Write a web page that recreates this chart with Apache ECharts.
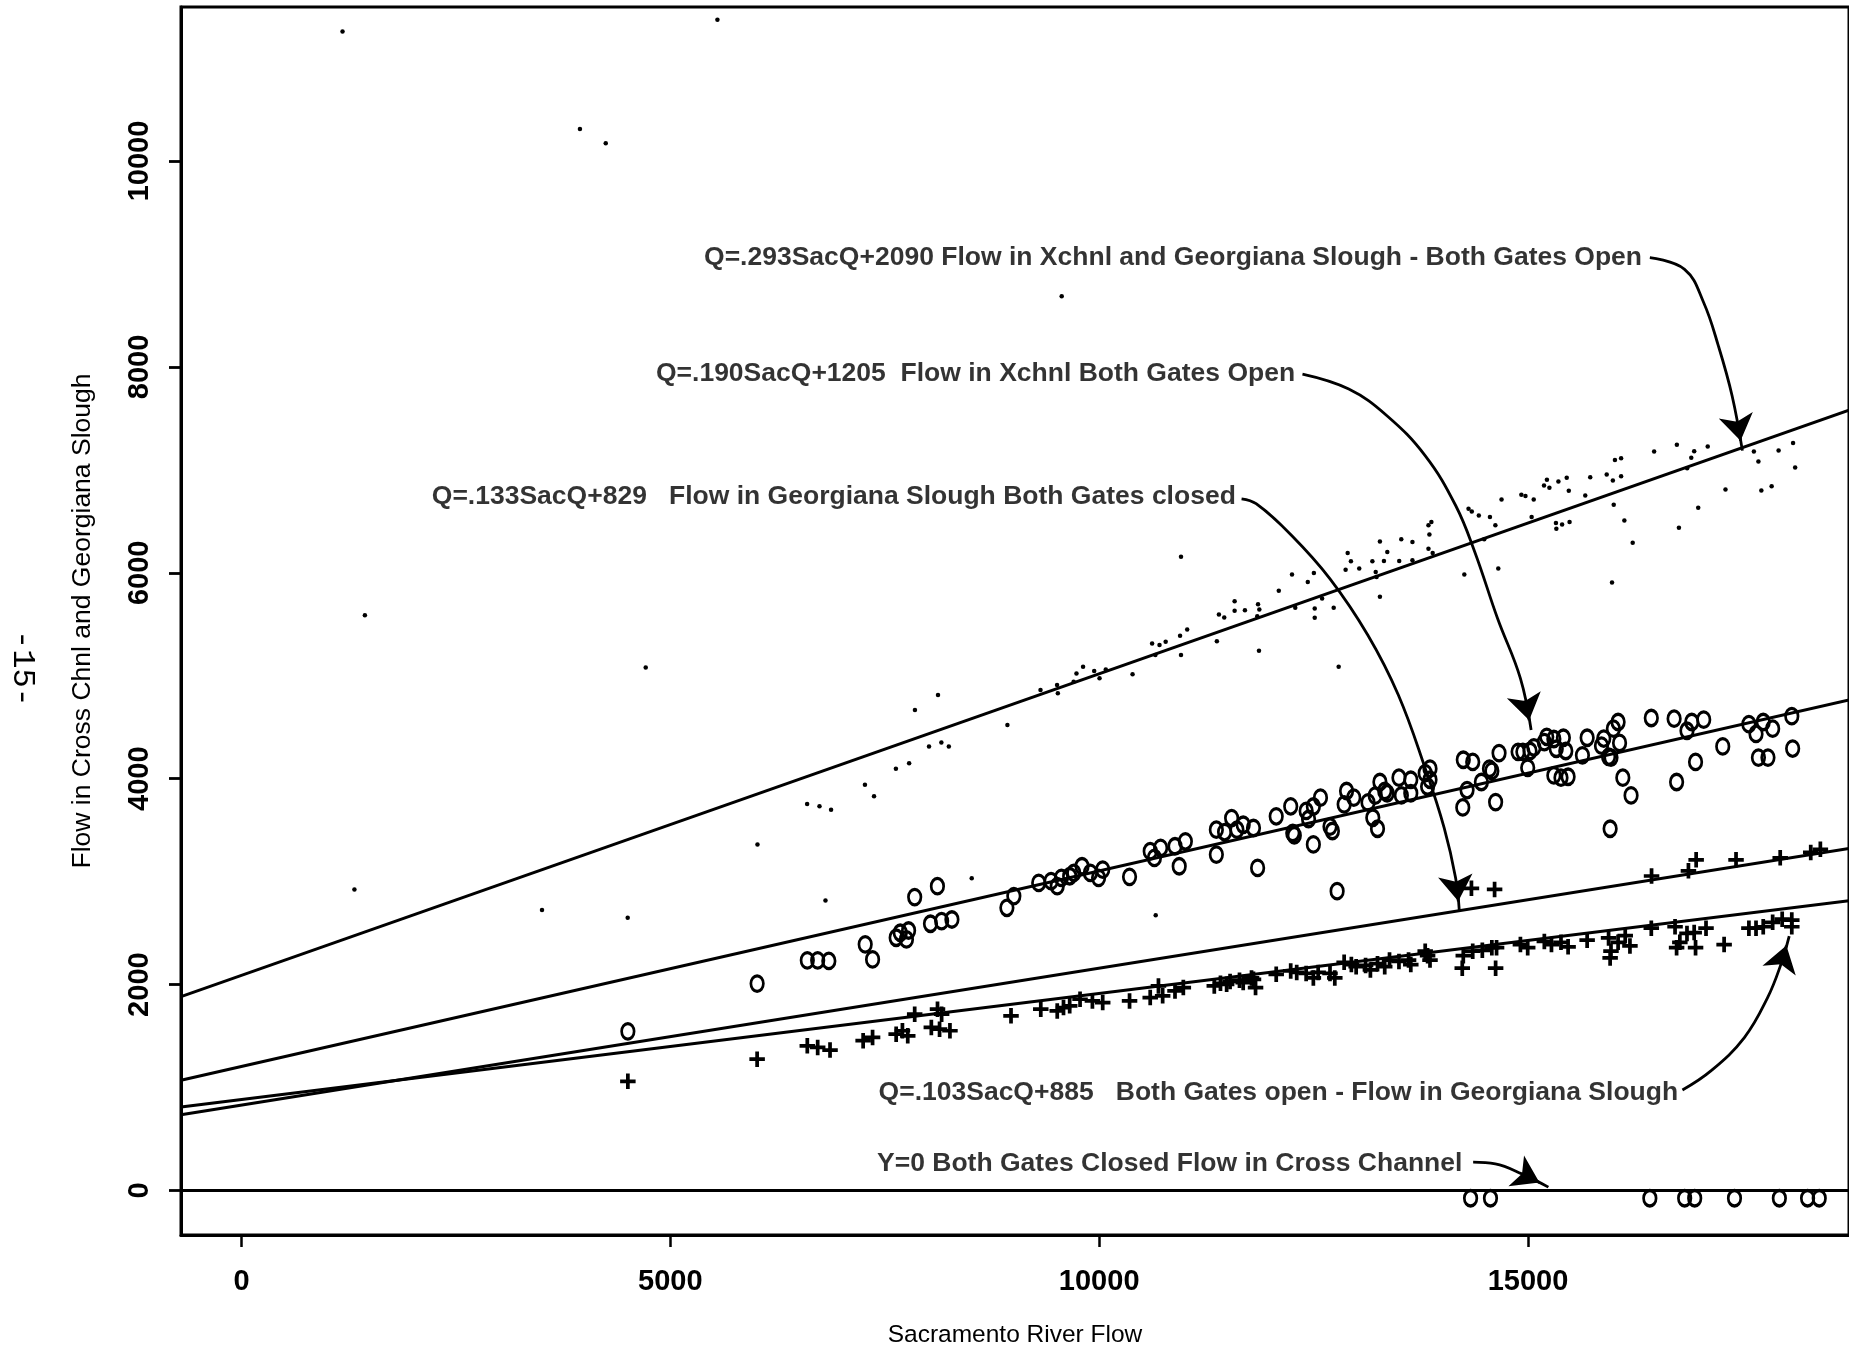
<!DOCTYPE html>
<html><head><meta charset="utf-8">
<script src="https://cdn.jsdelivr.net/npm/echarts@6/dist/echarts.min.js"></script>
<style>html,body{margin:0;padding:0;background:#fff}#c{width:1849px;height:1353px}</style>
</head><body><div id="c"></div>
<script>
const xTicks = [0, 5000, 10000, 15000];
const yTicks = [0, 2000, 4000, 6000, 8000, 10000];

// dots: total flow in Xchnl + Georgiana Slough, both gates open
const sumOpen = [[1178,11259],[3946,10310],[4247,10173],[5549,11373],[9563,8687],[1439,5589],[1317,2924],[3504,2724],[4503,2649],[4713,5080],
[6016,3360],[6595,3754],[6739,3732],[6874,3699],[7269,3941],[7375,3829],[7630,4096],[7784,4151],[7852,4668],[8121,4813],[8016,4313],[8160,4352],[8247,4313],[8930,4522],[9316,4862],[9509,4910],[9518,4830],[9702,4943],[9735,5023],[9812,5088],[9942,5046],[10004,4975],[10077,5062],[10389,5014],[10617,5314],[10703,5298],[10775,5330],[10655,5201],[10943,5389],[11026,5450],[10954,5201],[11372,5336],[10954,6157],
[8514,3034],[6809,2817],[10659,2675],
[11396,5595],[11458,5566],[11579,5724],[11579,5631],[11699,5637],[11852,5695],[11867,5643],[11843,5579],[11863,5243],[12094,5825],[12248,5983],[12432,5912],[12503,5999],[12513,5653],[12513,5563],[12286,5660],[12599,5750],[12734,5660],[12792,5088],[12873,6031],[12897,6193],[12935,6112],[13032,6041],[13185,6112],[13224,6009],[13234,5960],[13273,6305],[13273,5767],[13320,6115],[13359,6203],[13498,6115],[13522,6325],[13652,6299],[13652,6121],[13839,6463],[13850,6373],[13873,6493],[13839,6234],[13888,6193],[14257,5983],[14306,6623],[14344,6596],[14426,6557],[14556,6542],[14619,6461],[14489,6325],[14653,6041],[14691,6712],[14922,6758],[14970,6745],[15066,6712],[15042,6542],[15186,6848],[15220,6903],[15249,6826],[15354,6887],[15451,6923],[15475,6797],[15325,6484],[15397,6470],[15484,6493],[15330,6428],[15667,6751],[15725,6929],[15917,6955],[15989,6897],[16085,6939],[15999,6661],[16123,6509],[16220,6293],[15979,5905],[16013,7097],[16085,7113],[16470,7178],[16735,7243],[16903,7117],[16937,7182],[16855,7016],[17095,7226],[16759,6438],[16984,6632],[17302,6809],[17633,7178],[17686,7081],[17921,7187],[18090,7262],[18114,7023],[17720,6800],[17840,6842]];

// circles: flow in cross channel, both gates open
const xchnlOpen = [[4505,1546],[6012,2010],[6597,2236],[6718,2236],[6848,2230],[7272,2391],[7358,2245],[7633,2455],[7681,2504],[7778,2526],[7753,2439],[7849,2850],[8114,2956],[8033,2591],[8163,2617],[8283,2633],[8924,2746],[9005,2860],[9295,2988],[9439,3005],[9511,2957],[9560,3037],[9656,3053],[9704,3085],[9800,3150],[9897,3085],[9993,3037],[10041,3117],[10354,3047],[10595,3296],[10644,3231],[10716,3328],[10884,3344],[11005,3392],[10933,3150],[11366,3505],[11366,3263],[11462,3482],[11544,3618],[11606,3505],[11679,3553],[11799,3521],[11847,3134],[12064,3635],[12233,3732],[12257,3473],
[12413,3687],[12497,3730],[12580,3816],[12441,3609],[12497,3362],[12275,3449],[12691,3535],[12719,3492],[12774,2908],[12884,3881],[12968,3816],[12856,3751],[13134,3770],[13218,3836],[13190,3621],[13273,3968],[13329,3881],[13245,3514],[13357,3859],[13495,4010],[13523,3838],[13633,3990],[13633,3859],[13801,4054],[13857,4098],[13829,3924],[13857,3990],[14245,4184],[14355,4163],[14550,4098],[14578,4076],[14456,3968],[14289,3890],[14622,3773],[14239,3721],[14662,4249],[14884,4261],[14940,4261],[14996,4106],[15023,4269],[15068,4304],[15190,4355],[15218,4407],[15301,4386],[15329,4291],[15412,4398],[15440,4269],[15301,4032],[15384,4010],[15467,4019],[15634,4227],[15689,4398],[15856,4321],[15883,4390],[15939,4213],[15995,4486],[16050,4551],[16067,4348],[15967,4205],[16105,4010],[16201,3838],[15957,3514],[16437,4590],[16703,4583],[16853,4466],[16909,4551],[17048,4574],[17270,4314],[16953,4163],[16732,3968],[17575,4530],[17658,4435],[17742,4551],[17852,4486],[18075,4608],[18085,4293],[17686,4205],[17797,4205]];

// circles: flow in cross channel, both gates closed
const xchnlClosed = [[14330,-75],[14562,-75],[16420,-75],[16826,-75],[16943,-75],[17407,-75],[17930,-75],[18259,-75],[18395,-75]];

// plus: Georgiana Slough flow, both gates open
const gsOpen = [[4505,1061],[6012,1276],[6597,1406],[6718,1390],[6862,1364],[7248,1455],[7358,1487],[7633,1519],[7706,1552],[7768,1503],[7849,1713],[8043,1584],[8139,1567],[8115,1761],[8260,1552],[8163,1713],[8972,1697],[9319,1761],[9511,1745],[9584,1777],[9656,1794],[9777,1858],[9921,1842],[10041,1826],[10354,1842],[10595,1874],[10691,1987],[10740,1891],[10884,1939],[10981,1971],[11342,1987],[11486,2003],[11679,2020],[11799,2052],[11823,1971],[12064,2100],[12233,2133],
[11414,2013],[11526,2031],[11636,2043],[11776,2065],[12303,2118],[12413,2109],[12497,2065],[12553,2118],[12691,2109],[12747,2065],[12856,2217],[12940,2195],[12996,2174],[13106,2186],[13162,2143],[13245,2203],[13329,2174],[13385,2238],[13495,2225],[13607,2238],[13633,2195],[13801,2325],[13857,2238],[13829,2281],[14245,2281],[14355,2325],[14467,2333],[14578,2359],[14633,2359],[14233,2160],[14622,2160],[14911,2389],[14996,2359],[15190,2419],[15273,2389],[15384,2411],[15467,2367],[15689,2432],[15939,2454],[16050,2411],[16133,2475],[15967,2325],[16188,2376],[15957,2259],[16437,2548],[16714,2562],[16853,2497],[16770,2411],[16937,2506],[17075,2548],[16732,2359],[16953,2359],[17286,2389],[17575,2548],[17658,2548],[17742,2562],[17852,2605],[17963,2636],[18075,2562],[18075,2627]];

// plus: Georgiana Slough flow, both gates closed
const gsClosed = [[14340,2935],[14610,2925],[16440,3055],[16870,3105],[16960,3212],[17425,3212],[17940,3232],[18296,3284],[18408,3315]];

// fitted lines, end points
const fitSumOpen = [[-705,1883],[18742,7581]];
const fitXchnlOpen = [[-705,1071],[18742,4766]];
const fitGsClosed = [[-705,735],[18742,3322]];
const fitGsOpen = [[-705,812],[18742,2815]];
const fitXchnlClosed = [[-705,0],[18742,0]];

// annotation texts and their right-end anchors
const annoTexts = [
  'Q=.293SacQ+2090 Flow in Xchnl and Georgiana Slough - Both Gates Open',
  'Q=.190SacQ+1205  Flow in Xchnl Both Gates Open',
  'Q=.133SacQ+829   Flow in Georgiana Slough Both Gates closed',
  'Q=.103SacQ+885   Both Gates open - Flow in Georgiana Slough',
  'Y=0 Both Gates Closed Flow in Cross Channel'
];
const annoAnchors = [[16370,9061],[12325,7930],[11634,6735],[16791,953],[14275,259]];

// arrow paths (waypoints) and arrow heads
const arrowPaths = [
  [[16420,9061],[16825,8948],[17046,8628],[17220,8202],[17379,7720],[17499,7187]],
  [[12370,7930],[12910,7785],[13355,7526],[13800,7139],[14156,6654],[14379,6203],[14645,5556],[14911,4975],[15036,4474]],
  [[11660,6719],[11830,6671],[12244,6363],[12689,5944],[13133,5394],[13488,4813],[13800,4103],[14023,3521],[14155,3037],[14199,2714]],
  [[16800,976],[17135,1164],[17522,1486],[17793,1874],[17948,2197],[18045,2472]],
  [[14360,275],[14618,259],[14928,162],[15237,33]]
];
const arrowHeads = [
  [[17435,7473],[17478,7282]],
  [[14965,4759],[15013,4569]],
  [[14160,3002],[14187,2810]],
  [[17947,2193],[18012,2379]],
  [[14926,164],[15133,77]]
];

const chart = echarts.init(document.getElementById('c'), null, {renderer: 'canvas'});
const black = '#000';
const plusPath = 'path://M3.8,0H6.2V3.8H10V6.2H6.2V10H3.8V6.2H0V3.8H3.8Z';
const fitStyle = {color: black, width: 3, opacity: 1};
const sans = 'Liberation Sans, Arial, Helvetica, sans-serif';

function fitSeries(name, d) {
  return {name, type: 'line', data: d, symbol: 'none', silent: true, z: 3,
    lineStyle: fitStyle, itemStyle: {color: black}};
}

const series = [
  fitSeries('fitSumOpen', fitSumOpen),
  fitSeries('fitXchnlOpen', fitXchnlOpen),
  fitSeries('fitGsClosed', fitGsClosed),
  fitSeries('fitGsOpen', fitGsOpen),
  fitSeries('fitXchnlClosed', fitXchnlClosed),
  {name: 'sumOpen', type: 'scatter', data: sumOpen, symbol: 'circle', symbolSize: 4.5, z: 5,
    itemStyle: {color: black, opacity: 1}},
  {name: 'xchnlOpen', type: 'scatter', data: xchnlOpen.concat(xchnlClosed), symbol: 'circle', symbolSize: [12.5, 15.5], z: 5,
    itemStyle: {color: 'rgba(0,0,0,0)', borderColor: black, borderWidth: 3, opacity: 1}},
  {name: 'gsOpen', type: 'scatter', data: gsOpen.concat(gsClosed), symbol: plusPath, symbolSize: 15.5, z: 5,
    itemStyle: {color: black, opacity: 1}},
  {name: 'annotations', type: 'scatter', z: 6, symbolSize: 1, itemStyle: {color: 'rgba(0,0,0,0)'},
    data: annoTexts.map((t, i) => ({name: t, value: annoAnchors[i]})),
    label: {show: true, position: 'left', distance: 3, formatter: p => p.name,
      fontFamily: sans, fontWeight: 'bold', fontSize: 26.5, color: black}}
];
arrowPaths.forEach((p, i) => series.push({name: 'arrow' + i, type: 'line', data: p, smooth: 0.4,
  symbol: 'none', silent: true, z: 4, lineStyle: {color: black, width: 2.8, opacity: 1}}));
series.push({name: 'arrowHeads', type: 'lines', coordinateSystem: 'cartesian2d', z: 4, silent: true,
  symbol: ['none', 'arrow'], symbolSize: 26,
  lineStyle: {color: black, width: 2.8, curveness: 0, opacity: 1},
  itemStyle: {color: black, opacity: 1},
  data: arrowHeads.map(c => ({coords: c}))});

chart.setOption({
  animation: false,
  backgroundColor: '#fff',
  grid: {left: 181, right: -6, top: 7, bottom: 115, show: true, borderColor: black, borderWidth: 3,
    backgroundColor: 'rgba(0,0,0,0)'},
  xAxis: {type: 'value', min: -705, max: 18742,
    name: 'Sacramento River Flow', nameLocation: 'middle', nameGap: 88,
    nameTextStyle: {fontFamily: sans, fontSize: 24.5, color: black},
    axisLine: {show: true, onZero: false, lineStyle: {color: black, width: 3}}, splitLine: {show: false},
    axisTick: {show: true, customValues: xTicks, length: 12, lineStyle: {color: black, width: 2.5}},
    axisLabel: {customValues: xTicks, margin: 32, color: black, fontSize: 29, fontWeight: 'bold',
      fontFamily: sans, formatter: v => String(v)}},
  yAxis: {type: 'value', min: -432, max: 11496,
    name: 'Flow in Cross Chnl and Georgiana Slough', nameLocation: 'middle', nameGap: 85, nameRotate: 90,
    nameTextStyle: {fontFamily: sans, fontSize: 26.5, color: black},
    axisLine: {show: true, onZero: false, lineStyle: {color: black, width: 3}}, splitLine: {show: false},
    axisTick: {show: true, customValues: yTicks, length: 12, lineStyle: {color: black, width: 2.8}},
    axisLabel: {customValues: yTicks, rotate: 90, margin: 27, color: black, fontSize: 29, fontWeight: 'bold',
      fontFamily: sans, formatter: v => String(v)}},
  graphic: [{type: 'text', left: 6, top: 630, rotation: -Math.PI / 2,
    style: {text: '-15-', font: '32px "Liberation Mono", monospace', fill: black}}],
  series
});
</script></body></html>
